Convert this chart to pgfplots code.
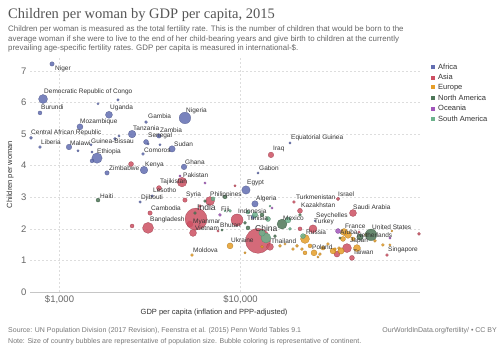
\documentclass[border=0pt]{standalone}
\usepackage{pgfplots}
\pgfplotsset{compat=1.18}
\usepackage{fontspec}
\setmainfont{Liberation Sans}
\newfontfamily\titlefont{Liberation Serif}
\definecolor{africa}{RGB}{98,110,178}
\definecolor{asia}{RGB}{205,80,98}
\definecolor{europe}{RGB}{230,158,40}
\definecolor{namer}{RGB}{78,118,88}
\definecolor{oceania}{RGB}{160,84,186}
\definecolor{samer}{RGB}{108,178,140}
\definecolor{c333}{HTML}{333333}
\definecolor{c555}{HTML}{555555}
\definecolor{c666}{HTML}{666666}
\definecolor{c777}{HTML}{777777}
\definecolor{gridc}{HTML}{DDDDDD}
\pgfplotsset{bub/.style={scatter, only marks, mark=*,
  scatter/use mapped color={draw=#1!75!black, fill=#1, fill opacity=0.85, draw opacity=0.9, line width=0.25pt},
  visualization depends on={\thisrow{r} \as \rr},
  scatter/@pre marker code/.append style={/tikz/mark size=\rr pt}}}
\newcommand{\lbl}[3]{\node[lab] at (#1,{353-#2}) {#3};}
\begin{document}
\begin{tikzpicture}[x=1pt,y=1pt,lab/.style={anchor=west,inner sep=0pt,font=\fontsize{6.5}{7}\selectfont,text=c333}]
\fill[white] (0,0) rectangle (500,353);
\useasboundingbox (0,0) rectangle (500,353);
\begin{axis}[at={(30pt,61pt)}, anchor=south west, scale only axis, width=390pt, height=235pt,
  xmode=log, xmin=687, xmax=98160, ymin=0, ymax=7.44,
  xtick={1000,10000}, xticklabels={{\$1,000},{\$10,000}},
  ytick={0,1,2,3,4,5,6,7},
  axis x line*=bottom, axis y line*=left,
  x axis line style={draw=gray!45, line width=0.7pt},
  y axis line style={draw=none},
  major tick length=0pt, tick style={draw=none},
  grid=major, major grid style={draw=gridc, dash pattern=on 2pt off 2pt, line width=0.5pt},
  /pgf/number format/assume math mode=true,
  tick label style={font=\fontsize{9.5}{10}\selectfont, text=c666},
  xlabel={GDP per capita (inflation and PPP-adjusted)},
  ylabel={Children per woman},
  xlabel style={font=\fontsize{7.5}{8}\selectfont, text=c333, at={(axis description cs:0.472,-0.089)}, anchor=center},
  ylabel style={font=\fontsize{7.5}{8}\selectfont, text=c333, at={(axis description cs:-0.051,0.5)}, anchor=center, rotate=0},
  clip=false]
% Africa
\addplot[bub=africa] table {
x y r
909 7.22 2.2
811 6.11 4.5
780 5.67 2
1876 5.61 3.5
3007 5.38 1.5
1297 5.23 3
2517 5.00 3.8
3545 4.94 2.2
3007 4.75 2.5
3085 4.69 1.2
696 4.88 1.5
780 4.59 1.5
1128 4.59 2.8
1493 4.66 1.2
1611 4.24 5.2
1512 4.15 2
1632 5.96 1.2
2104 6.08 1.3
1265 4.47 1.2
1512 4.43 1.2
2131 4.94 1.2
2026 4.85 1.5
3590 4.66 1.2
2893 4.37 1.5
4185 4.53 3.2
4933 5.51 5.8
2930 3.86 3.8
1830 3.77 2.2
4873 3.96 2.8
12500 3.77 1.2
18770 4.72 1.2
10720 3.23 4.2
12020 2.79 3.2
11730 2.38 2
2786 2.85 1.3
3246 3.04 1.3
25800 2.25 1
};
% Asia
\addplot[bub=asia] table {
x y r
2485 4.05 2.5
3546 3.29 2.5
4752 3.48 4.8
3164 2.50 2.2
3085 2.03 5.5
2517 2.09 2
4933 2.91 2.2
6785 2.88 4.5
5260 2.15 3
5466 1.87 3.5
5680 2.31 11
7515 1.93 1.2
9572 2.28 6
12500 1.62 12.5
14550 1.43 3.5
14740 4.34 2.8
21320 2.57 2.5
19750 2.85 1.5
34590 2.95 1.8
41830 2.50 3.5
25150 2.00 4
38760 1.39 4.5
41290 1.08 2.5
64490 1.17 1.5
34130 1.20 3
21320 2.00 2
9325 3.36 1.2
5970 2.72 1.5
96880 1.84 1.5
45150 1.90 1.2
};
% Europe
\addplot[bub=europe] table {
x y r
8757 1.46 3
5395 1.17 1.5
22720 1.68 4.5
25480 1.24 3
37350 1.90 3.5
44020 1.39 3.5
39270 1.81 3.5
35920 1.30 3.2
32450 1.30 3
41830 1.68 2
19500 1.36 1.5
20530 1.46 1.5
21860 1.36 1.5
22720 1.24 2
27480 1.20 1.5
28580 1.39 2
33270 1.36 1.5
35010 1.39 1.5
36850 1.68 2.5
61200 1.49 1.5
66950 1.49 1.2
68690 1.93 1
16530 1.46 1.5
17620 1.52 1.2
10590 1.24 1.2
13150 1.43 1.5
24210 1.46 2
26800 1.11 1.2
30430 1.52 1.5
49370 1.81 1.5
55340 1.62 1.5
};
% North America
\addplot[bub=namer] table {
x y r
1632 2.91 2
16960 2.15 5
52620 1.81 5.8
45730 1.74 3.2
8210 3.01 2
6368 2.88 1.5
5605 2.50 1.5
13150 2.44 2
10590 2.19 1.5
11000 2.03 2
7906 1.96 1.2
21320 2.44 1.5
15510 1.77 1.5
35440 1.71 1.2
};
% Oceania
\addplot[bub=oceania] table {
x y r
7703 2.44 1.5
34590 1.93 2.5
66950 1.71 1.2
14930 2.66 1.2
6368 3.45 1.2
4630 3.67 1.2
};
% South America
\addplot[bub=samer] table {
x y r
13830 1.71 5
18300 2.28 3
13150 1.87 3.2
12020 2.44 2.8
14190 2.31 2.5
22140 1.77 2.5
11000 2.53 2
7050 2.95 2
8757 2.57 1.5
18770 2.00 1.5
8210 2.57 1
14550 2.72 1
};
\end{axis}
% titles
\node[anchor=base west,inner sep=0pt,font=\titlefont\fontsize{14.5}{16}\selectfont,text=c555] at (8,{353-19}) {Children per woman by GDP per capita, 2015};
\node[anchor=base west,inner sep=0pt,font=\fontsize{7.9}{9}\selectfont,text=c666] at (8,{353-32}) {Children per woman is measured as the total fertility rate. This is the number of children that would be born to the};
\node[anchor=base west,inner sep=0pt,font=\fontsize{7.9}{9}\selectfont,text=c666] at (8,{353-41.5}) {average woman if she were to live to the end of her child-bearing years and give birth to children at the currently};
\node[anchor=base west,inner sep=0pt,font=\fontsize{7.9}{9}\selectfont,text=c666] at (8,{353-51}) {prevailing age-specific fertility rates. GDP per capita is measured in international-\$.};
% legend
\foreach \c/\t [count=\i from 0] in {africa/Africa,asia/Asia,europe/Europe,namer/North America,oceania/Oceania,samer/South America}{
  \node[anchor=west,inner sep=0pt,font=\fontsize{7.5}{8}\selectfont,text=c333] at (431,{353-67-10.3*\i}) {\textcolor{\c}{\rule[0.3pt]{4pt}{4pt}}\hspace{3pt}\t};
}
% footer
\node[anchor=base west,inner sep=0pt,font=\fontsize{7}{8}\selectfont,text=c777] at (8,{353-332.5}) {Source: UN Population Division (2017 Revision), Feenstra et al. (2015) Penn World Tables 9.1};
\node[anchor=base east,inner sep=0pt,font=\fontsize{7}{8}\selectfont,text=c777] at (497,{353-332.5}) {OurWorldInData.org/fertility/ • CC BY};
\node[anchor=base west,inner sep=0pt,font=\fontsize{7}{8}\selectfont,text=c777] at (8,{353-343.5}) {Note: Size of country bubbles are representative of population size. Bubble coloring is representative of continent.};
% point labels
\lbl{55}{69}{Niger}
\lbl{44}{92}{Democratic Republic of Congo}
\lbl{41}{107}{Burundi}
\lbl{110}{108}{Uganda}
\lbl{148}{116}{Gambia}
\lbl{80}{122}{Mozambique}
\lbl{133}{128}{Tanzania}
\lbl{160}{130}{Zambia}
\lbl{148}{136}{Senegal}
\lbl{31}{133}{Central African Republic}
\lbl{41}{142}{Liberia}
\lbl{70}{143}{Malawi}
\lbl{91}{141}{Guinea-Bissau}
\lbl{97}{152}{Ethiopia}
\lbl{144}{150}{Comoros}
\lbl{174}{144}{Sudan}
\lbl{186}{111}{Nigeria}
\lbl{145}{165}{Kenya}
\lbl{109}{168}{Zimbabwe}
\lbl{185}{162}{Ghana}
\lbl{259}{168}{Gabon}
\lbl{291}{138}{Equatorial Guinea}
\lbl{273}{149}{Iraq}
\lbl{247}{183}{Egypt}
\lbl{256}{199}{Algeria}
\lbl{247}{218}{Tunisia}
\lbl{100}{196}{Haiti}
\lbl{141}{198}{Djibouti}
\lbl{153}{190}{Lesotho}
\lbl{160}{182}{Tajikistan}
\lbl{183}{175}{Pakistan}
\lbl{151}{208}{Cambodia}
\lbl{150}{220}{Bangladesh}
\lbl{186}{195}{Syria}
\lbl{210}{195}{Philippines}
\node[lab,font=\fontsize{8.5}{9}\selectfont] at (197,{353-207}) {India};
\lbl{193}{222}{Myanmar}
\lbl{195}{228}{Vietnam}
\lbl{221}{210}{Fiji}
\lbl{220}{225}{Bhutan}
\lbl{238}{211}{Indonesia}
\node[lab,font=\fontsize{8.5}{9}\selectfont] at (255,{353-228}) {China};
\lbl{231}{240}{Ukraine}
\lbl{193}{250}{Moldova}
\lbl{271}{241}{Thailand}
\lbl{283}{218}{Mexico}
\lbl{296}{197}{Turkmenistan}
\lbl{301}{205}{Kazakhstan}
\lbl{316}{216}{Seychelles}
\lbl{314}{222}{Turkey}
\lbl{306}{232}{Russia}
\lbl{338}{194}{Israel}
\lbl{353}{207}{Saudi Arabia}
\lbl{345}{226}{France}
\lbl{340}{232}{Aruba}
\lbl{357}{235}{Netherlands}
\lbl{372}{227}{United States}
\lbl{350}{241}{Japan}
\lbl{312}{247}{Poland}
\lbl{353}{252}{Taiwan}
\lbl{388}{250}{Singapore}
\end{tikzpicture}
\end{document}
